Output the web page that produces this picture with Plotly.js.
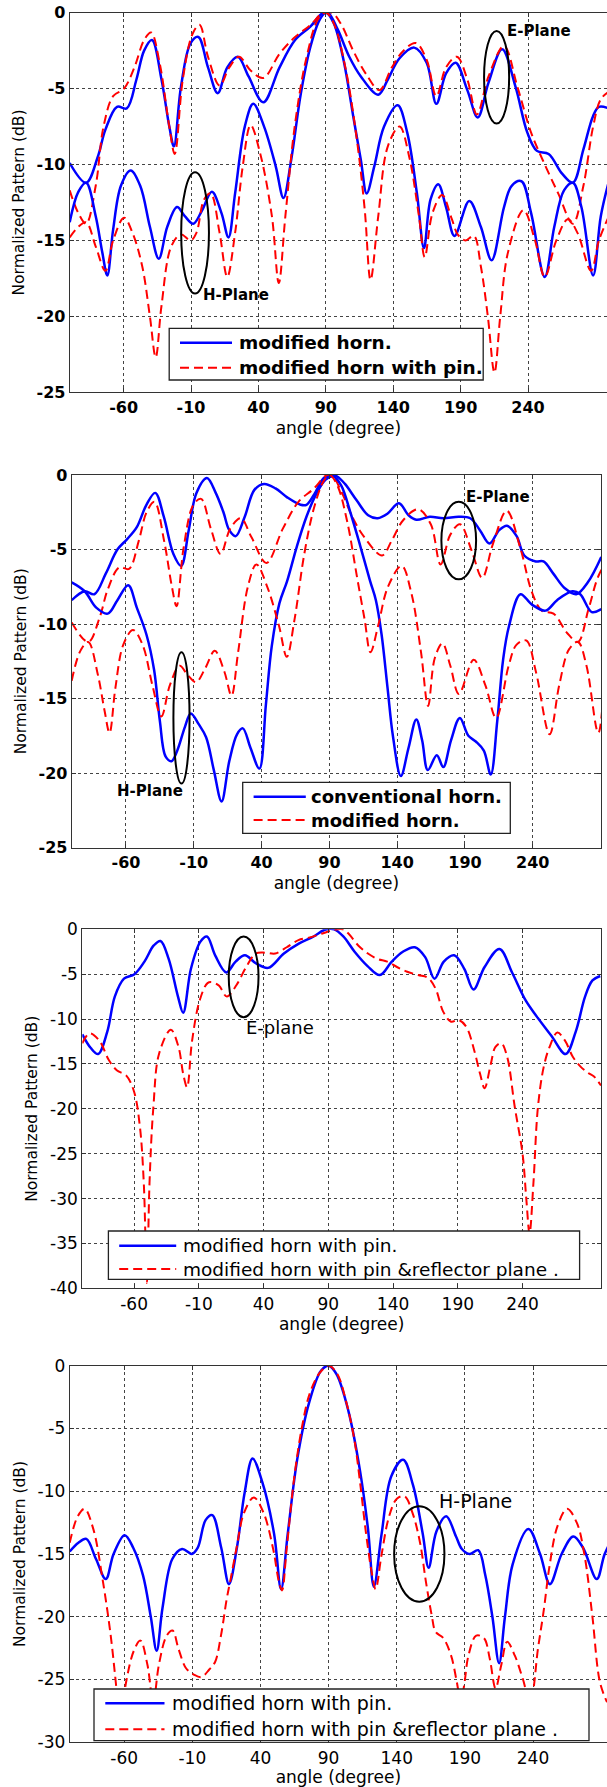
<!DOCTYPE html>
<html><head><meta charset="utf-8">
<script src="https://cdn.plot.ly/plotly-3.0.1.min.js"></script>
<style>html,body{margin:0;padding:0;background:#fff;}#chart{width:607px;height:1787px;}</style>
</head><body><div id="chart"></div>
<script>
// ---------- tick labels ----------
const angleTickVals = [-60, -10, 40, 90, 140, 190, 240];
const angleTickText = ['-60', '-10', '40', '90', '140', '190', '240'];
const dbTickVals25 = [0, -5, -10, -15, -20, -25];
const dbTickText25 = ['0', '-5', '-10', '-15', '-20', '-25'];
const dbTickVals30 = [0, -5, -10, -15, -20, -25, -30];
const dbTickText30 = ['0', '-5', '-10', '-15', '-20', '-25', '-30'];
const dbTickVals40 = [0, -5, -10, -15, -20, -25, -30, -35, -40];
const dbTickText40 = ['0', '-5', '-10', '-15', '-20', '-25', '-30', '-35', '-40'];

// ---------- series: modified horn (E / H plane) ----------
const modHornE_ang = [-100,-87.8,-79.2,-73.5,-64.9,-57.7,-50.5,-44.8,-39,-31.9,-26.1,-22.7,-17.5,-10.3,-4.6,2.6,9.8,16.9,24.7,32.7,43.6,55.7,67.2,78.7,87.3,91.6,98.8,107.4,116,128.9,136,144.7,155.6,164.8,172,179.2,186.3,195,202.7,210.7,220.8,230.8,239.5,246.6,255.3,265.3,273.3,281.1,288.3,292.6,300];
const modHornE_dB = [-9.9,-11.2,-9.5,-7.7,-6.2,-6.3,-4.4,-2.5,-1.8,-4.4,-7.5,-8.8,-4.9,-2.0,-1.6,-3.6,-5.3,-3.6,-2.9,-4.2,-5.9,-3.6,-1.8,-0.9,-0.05,0,-1.1,-2.9,-4.2,-5.4,-4.4,-3.0,-2.3,-3.3,-6.0,-4.0,-3.3,-5.1,-6.9,-4.6,-2.4,-4.9,-7.9,-9.1,-9.3,-10.6,-11.2,-9.0,-6.8,-6.2,-6.3];
const modHornH_ang = [-100,-93.6,-87.8,-80.7,-75.8,-72.1,-67.8,-62,-54.8,-47.7,-40.5,-33.9,-27.6,-20.4,-14.6,-8.3,-1.7,5.5,12.6,17.8,22.7,29.9,36.2,44.2,52.8,58.6,64.3,71.5,78.7,85.8,90.2,95.9,103.1,110.3,116,120.3,126,133.2,143.3,150.4,157.6,162.8,167.7,173.4,179.2,185.5,196.4,205,213,222.2,227.9,235.1,242.3,252.4,259.5,266.7,273.3,279.6,288.3,294,300];
const modHornH_dB = [-13.8,-11.8,-11.2,-13.4,-15.8,-17.3,-14.3,-11.4,-10.4,-11.4,-14.1,-16.2,-14.1,-12.8,-13.4,-13.9,-13.0,-11.8,-13.2,-14.8,-11.9,-7.5,-6.0,-7.5,-10.1,-12.2,-9.7,-5.3,-2.2,-0.4,0,-0.7,-3.1,-6.8,-9.7,-11.9,-10.1,-7.5,-6.1,-7.9,-11.9,-15.5,-12.3,-11.3,-12.8,-14.7,-12.4,-14.1,-16.3,-12.8,-11.4,-11.1,-13.2,-17.4,-14.1,-11.7,-11.2,-12.8,-17.3,-13.4,-11.1];

// ---------- series: modified horn with pin (E / H plane) ----------
const pinE_ang = [-100,-93.6,-87.8,-80.7,-74.9,-67.8,-59.7,-52,-44.8,-39.6,-33.3,-26.1,-22.1,-16.1,-8.9,-3.7,2.6,11.2,18.4,25.6,34.2,43.6,55.7,67.2,78.7,87.3,94.5,101.6,110.3,120.3,129.8,139,147.6,156.8,164.8,172,179.2,187.2,195,202.1,210.7,222.2,232.2,242.3,250.9,262.4,273.3,281.1,288.3,294,300];
const pinE_dB = [-11.7,-13.2,-13.9,-11.4,-7.5,-5.5,-5.0,-3.6,-1.8,-1.3,-3.3,-7.5,-9.3,-4.4,-1.4,-0.8,-2.9,-4.8,-3.6,-2.9,-3.8,-4.3,-2.7,-1.6,-0.8,-0.05,0,-0.8,-2.5,-4.1,-5.1,-3.6,-2.5,-2.0,-3.1,-5.5,-3.6,-2.9,-4.4,-6.7,-4.2,-2.2,-4.9,-7.9,-9.7,-11.9,-13.9,-11.4,-7.5,-5.7,-5.2];
const pinH_ang = [-100,-93.6,-87.8,-80.7,-73.5,-67.8,-59.7,-53.4,-46.2,-40.5,-36.2,-31.9,-24.7,-17.5,-10.3,-6,-0.3,4.6,11.2,16.9,22.7,28.4,34.2,41.4,50,55.1,60,67.2,75.8,84.4,90.2,95.9,104.5,113.1,118.9,123.2,128.9,136,144.7,151.9,159.1,163.4,169.1,176.3,183.5,187.8,193.5,199.8,205,210.2,215.1,219.4,225.1,236.6,245.2,252.4,261,269.6,276.7,286.8,292.6,300];
const pinH_dB = [-14.8,-14.1,-13.8,-15.4,-17.0,-15.0,-13.5,-14.5,-16.7,-20,-22.7,-19.3,-15.4,-14.6,-15.0,-14.5,-12.3,-11.9,-14.5,-17.4,-14.5,-10.1,-7.4,-9.3,-13.4,-17.8,-13.4,-7.3,-2.9,-0.4,0,-0.7,-3.6,-8.4,-13.0,-17.6,-13.4,-8.8,-7.5,-9.5,-13.4,-16.1,-13.2,-12.0,-13.6,-14.6,-15.0,-14.7,-16.7,-20,-23.7,-20,-15.8,-13.0,-15.0,-17.4,-15.0,-13.6,-14.5,-17.0,-15.0,-13.4];

// ---------- series: conventional horn (E / H plane) ----------
const convE_ang = [-100,-90.4,-83.3,-74.8,-66.3,-59.1,-52,-44.9,-38.4,-32.1,-25,-19.3,-13.7,-8,-0.3,6.2,11.9,16.2,21,27.6,34.7,41.8,50.3,58.9,68.8,73.1,78.8,85.9,91.6,95.8,101.5,110.1,118.6,125.7,132.8,141.3,148.4,154.1,164.1,174,185.4,193.9,201,208.1,215.2,221,228.1,233.7,242.2,247.9,255,263.6,272.1,280.6,290.5];
const convE_dB = [-8.4,-7.8,-8.0,-6.6,-5.0,-4.3,-3.5,-2.0,-1.2,-2.8,-5.3,-6.1,-3.7,-1.2,-0.2,-1.2,-2.5,-3.7,-4.1,-2.8,-1.0,-0.6,-0.9,-1.5,-2.0,-2.0,-1.3,-0.2,0,-0.1,-0.6,-1.7,-2.7,-2.9,-2.6,-1.9,-2.7,-3.0,-2.8,-2.9,-2.8,-2.9,-3.7,-4.6,-3.7,-3.4,-4.1,-5.4,-5.8,-5.8,-6.6,-7.6,-8.0,-7.2,-5.5];
const convH_ang = [-100,-90.4,-81.9,-73.4,-66.3,-58.3,-52,-44.9,-39.2,-35,-30.7,-26.4,-22.2,-16.5,-12.2,-6.5,-0.9,4.8,10.5,16.2,21.9,26.2,31.8,38.4,43.2,47.5,53.2,58.9,66,73.1,80.2,87.3,93,98.7,105.8,112.9,120,124.3,128.5,132.8,137,142.7,148.4,154.1,158.4,162.6,169.2,174,179.7,186.2,192.5,198.2,203.9,209,213.8,218.1,222.3,230.9,239.4,249.4,257.9,269.3,275,283.5,290.5];
const convH_dB = [-7.2,-7.8,-8.9,-9.3,-8.4,-7.4,-8.9,-10.7,-13.1,-16.5,-18.9,-19.2,-18.5,-16.9,-16.0,-16.7,-17.6,-19.8,-21.9,-19.2,-17.4,-17.0,-18.3,-19.7,-15.4,-11.5,-8.6,-7.1,-4.8,-2.8,-1.3,-0.3,-0.1,-0.7,-2.6,-4.8,-7.1,-8.4,-10.7,-14.2,-17.6,-20.2,-18.3,-16.4,-17.8,-19.8,-18.8,-19.6,-17.8,-16.3,-17.5,-17.9,-18.5,-20.1,-16.5,-12.4,-10.2,-8.0,-8.7,-9.1,-8.4,-7.8,-8.0,-9.2,-9.0];

// ---------- series: modified horn with pin & reflector plane (E / H plane) ----------
const reflE_ang = [-100,-94.3,-86.9,-79.4,-73.4,-66,-60,-55.5,-52.5,-50.1,-48.1,-45.1,-40.6,-31.6,-25.7,-22.1,-19.1,-15.2,-9.3,-3.3,0.6,5.7,11.6,19.1,26.6,34,41.5,49,57.9,66.9,75.8,84.8,93.7,101.2,105.7,113.1,120.6,128,135.5,143,150.4,159.4,166.9,172.8,178.8,184.8,190.7,196.7,202.7,207.2,210.7,215.5,219.1,223.6,228.1,234,240,243,245.4,248.4,251.9,256.4,260.9,266.9,272.8,278.8,284.8,290.7,295.2,300.6];
const reflE_dB = [-12.7,-11.6,-12.4,-14.6,-15.7,-16.3,-18.1,-22.0,-28.3,-39.4,-28.3,-19.8,-13.8,-11.2,-13.1,-16.1,-17.6,-12.4,-7.9,-6.0,-5.9,-6.3,-7.5,-6.2,-4.2,-2.7,-2.6,-2.7,-2.0,-1.2,-0.9,-0.5,-0.1,0,-0.5,-1.8,-2.7,-3.3,-3.6,-4.2,-4.7,-5.1,-5.4,-6.6,-9.2,-10.3,-10.1,-10.9,-13.5,-16.1,-17.7,-15.0,-13.1,-12.7,-14.2,-19.8,-25.0,-30.2,-33.9,-28.3,-19.8,-15.3,-13.1,-11.5,-12.4,-14.2,-15.3,-16.0,-16.4,-17.4];
const reflH_ang = [-100,-94.1,-89,-82.7,-75.6,-69.9,-65.7,-62.8,-58.6,-52.9,-48.1,-43,-38.7,-34.5,-28.8,-24.5,-20.3,-14.6,-8.9,-3.2,2.4,6.7,11,15.2,18.1,22.3,28,35.1,42.2,49.3,53.5,55.8,59.2,64.9,70.6,76.2,83.3,89.9,96.1,103.2,108.9,113.1,117.4,121.7,124.5,128.8,134.4,140.1,145.8,151.5,157.1,161.4,165.7,168.5,174.2,179.9,184.1,187,189.8,192.6,198.3,204,208.2,212.5,216.8,221,226.7,232.4,238,243.7,248,252.2,257.9,265,272.1,277.8,283.5,289.1,294.3];
const reflH_dB = [-14.1,-12.0,-11.4,-13.0,-17.2,-21.5,-25.7,-28.5,-25.2,-22.7,-21.9,-23.8,-26.8,-23.8,-21.5,-21.1,-22.5,-24.1,-24.6,-24.8,-24.2,-23.6,-21.5,-18.6,-17.0,-14.6,-11.7,-10.5,-11.7,-14.6,-17.2,-17.9,-14.6,-8.8,-4.8,-2.2,-0.6,0,-0.6,-3.0,-5.9,-9.3,-13.3,-16.5,-17.8,-15.1,-12.0,-10.6,-10.4,-11.7,-14.1,-17.2,-19.9,-21.2,-21.7,-23.1,-25.2,-26.8,-25.2,-23.1,-21.5,-21.7,-23.3,-25.7,-23.8,-22.0,-23.1,-24.9,-26.8,-22.5,-19.4,-15.9,-12.8,-11.4,-12.5,-15.1,-19.9,-25.2,-26.8];

// ---------- legend names ----------
const nameModHorn = 'modified horn.';
const nameModHornPin = 'modified horn with pin.';
const nameConv = 'conventional horn.';
const nameRefl = 'modified horn with pin &reflector plane .';

// ---------- styles ----------
const BLUE = '#0000ff', RED = '#ff0000';
const FONT = 'DejaVu Sans';
const RED_DASH = '9px,5px';
function solid(x, y, xa, ya, name) {
  return {type: 'scatter', mode: 'lines', x: x, y: y, xaxis: xa, yaxis: ya, name: name,
    showlegend: false, line: {color: BLUE, width: 2.5, shape: 'spline', smoothing: 1}};
}
function dashed(x, y, xa, ya, name) {
  return {type: 'scatter', mode: 'lines', x: x, y: y, xaxis: xa, yaxis: ya, name: name,
    showlegend: false, line: {color: RED, width: 2, dash: RED_DASH, shape: 'spline', smoothing: 1}};
}

const traces = [
  solid(modHornE_ang, modHornE_dB, 'x', 'y', nameModHorn),
  dashed(pinE_ang, pinE_dB, 'x', 'y', nameModHornPin),
  solid(modHornH_ang, modHornH_dB, 'x', 'y', nameModHorn),
  dashed(pinH_ang, pinH_dB, 'x', 'y', nameModHornPin),
  solid(convE_ang, convE_dB, 'x2', 'y2', nameConv),
  dashed(modHornE_ang, modHornE_dB, 'x2', 'y2', nameModHorn),
  solid(convH_ang, convH_dB, 'x2', 'y2', nameConv),
  dashed(modHornH_ang, modHornH_dB, 'x2', 'y2', nameModHorn),
  solid(pinE_ang, pinE_dB, 'x3', 'y3', nameModHornPin),
  dashed(reflE_ang, reflE_dB, 'x3', 'y3', nameRefl),
  solid(pinH_ang, pinH_dB, 'x4', 'y4', nameModHornPin),
  dashed(reflH_ang, reflH_dB, 'x4', 'y4', nameRefl)
];

const W = 607, H = 1787;
function px2x(p) { return p / W; }
function px2y(p) { return 1 - p / H; }

function xAxis(l, r, range, anchor, bold, size, standoff) {
  return {domain: [px2x(l), px2x(r)], range: range, anchor: anchor, tickmode: 'array',
    tickvals: angleTickVals, ticktext: angleTickText, ticks: 'inside', ticklen: 4, tickcolor: '#333',
    showline: true, linecolor: '#333', linewidth: 1, mirror: 'ticks', zeroline: false,
    showgrid: true, gridcolor: '#444', gridwidth: 1, griddash: '3px,3px',
    tickfont: {family: FONT, size: size, color: '#000', weight: bold ? 'bold' : 'normal'},
    title: {text: 'angle (degree)', font: {family: FONT, size: 17, color: '#000'}, standoff: standoff},
    automargin: false, fixedrange: true};
}
function yAxis(t, b, range, anchor, vals, text, bold, size, mirror, standoff) {
  return {domain: [px2y(b), px2y(t)], range: range, anchor: anchor, tickmode: 'array',
    tickvals: vals, ticktext: text, ticks: 'inside', ticklen: 4, tickcolor: '#333',
    showline: true, linecolor: '#333', linewidth: 1, mirror: mirror, zeroline: false,
    showgrid: true, gridcolor: '#444', gridwidth: 1, griddash: '3px,3px',
    tickfont: {family: FONT, size: size, color: '#000', weight: bold ? 'bold' : 'normal'},
    title: {text: 'Normalized Pattern (dB)', font: {family: FONT, size: 15.5, color: '#000'}, standoff: standoff},
    automargin: false, fixedrange: true};
}

// ---------- hand-drawn legend boxes (paper coordinates) ----------
const shapes = [];
const annotations = [];
function legendBox(l, r, t, b, rows, bold, size) {
  shapes.push({type: 'rect', xref: 'paper', yref: 'paper', x0: px2x(l), x1: px2x(r), y0: px2y(b), y1: px2y(t),
    fillcolor: '#fff', line: {color: '#222', width: 1.3}, layer: 'above'});
  rows.forEach(function (row) {
    shapes.push({type: 'line', xref: 'paper', yref: 'paper', x0: px2x(row.l0), x1: px2x(row.l1),
      y0: px2y(row.y), y1: px2y(row.y), layer: 'above',
      line: {color: row.color, width: row.dash ? 2 : 2.5, dash: row.dash ? RED_DASH : 'solid'}});
    annotations.push({xref: 'paper', yref: 'paper', x: px2x(row.tx), y: px2y(row.y), text: row.text,
      showarrow: false, xanchor: 'left', yanchor: 'middle',
      font: {family: FONT, size: size, color: '#000', weight: bold ? 'bold' : 'normal'}});
  });
}
legendBox(169.2, 483.2, 328.3, 380, [
  {l0: 180, l1: 232, tx: 237, y: 342.7, color: BLUE, dash: false, text: nameModHorn},
  {l0: 180, l1: 232, tx: 237, y: 367.7, color: RED, dash: true, text: nameModHornPin}], true, 18.5);
legendBox(242.7, 510.3, 782.3, 833.3, [
  {l0: 253.6, l1: 305.8, tx: 309, y: 796.7, color: BLUE, dash: false, text: nameConv},
  {l0: 253.6, l1: 305.8, tx: 309, y: 820, color: RED, dash: true, text: nameModHorn}], true, 18);
legendBox(108.4, 579.6, 1231, 1279.3, [
  {l0: 119.2, l1: 176.2, tx: 181, y: 1245.7, color: BLUE, dash: false, text: nameModHornPin},
  {l0: 119.2, l1: 176.2, tx: 181, y: 1269, color: RED, dash: true, text: nameRefl}], false, 18.5);
legendBox(94, 589, 1689, 1740.7, [
  {l0: 105.3, l1: 164.5, tx: 170, y: 1703.3, color: BLUE, dash: false, text: nameModHornPin},
  {l0: 105.3, l1: 164.5, tx: 170, y: 1729.3, color: RED, dash: true, text: nameRefl}], false, 19);

// ---------- plane markers ----------
function ellipse(xr, yr, x0, x1, y0, y1) {
  shapes.push({type: 'circle', xref: xr, yref: yr, x0: x0, x1: x1, y0: y0, y1: y1,
    line: {color: '#000', width: 2}, fillcolor: 'rgba(0,0,0,0)', layer: 'above'});
}
function label(xr, yr, x, y, text, bold, size) {
  annotations.push({xref: xr, yref: yr, x: x, y: y, text: text, showarrow: false, xanchor: 'left', yanchor: 'middle',
    font: {family: FONT, size: size, color: '#000', weight: bold ? 'bold' : 'normal'}});
}
ellipse('x', 'y', 207.4, 226, -7.3, -1.2);
ellipse('x', 'y', -17.3, 3.3, -18.5, -10.5);
ellipse('x2', 'y2', 172.6, 198.2, -7.0, -1.8);
ellipse('x2', 'y2', -25, -13.1, -20.7, -11.9);
ellipse('x3', 'y3', 13.1, 36.1, -9.8, -0.8);
ellipse('x4', 'y4', 138.1, 175, -18.8, -11.2);
label('x', 'y', 222.9, -1.2, 'E-Plane', true, 15);
label('x', 'y', -2.5, -18.6, 'H-Plane', true, 15);
label('x2', 'y2', 189.6, -1.5, 'E-Plane', true, 15);
label('x2', 'y2', -68, -21.2, 'H-Plane', true, 15);
label('x3', 'y3', 25.1, -10.9, 'E-plane', false, 18);
label('x4', 'y4', 169.4, -10.8, 'H-Plane', false, 19);

const layout = {
  width: W, height: H, margin: {l: 0, r: 0, t: 0, b: 0},
  paper_bgcolor: '#fff', plot_bgcolor: '#fff', showlegend: false,
  xaxis: xAxis(69.7, 607, [-100, 298.6], 'y', true, 16, 6),
  yaxis: yAxis(12.7, 392.3, [-25, 0], 'x', dbTickVals25, dbTickText25, true, 16, false, 8),
  xaxis2: xAxis(71.7, 601, [-100, 290.3], 'y2', true, 16, 6),
  yaxis2: yAxis(475, 847.6, [-25, 0], 'x2', dbTickVals25, dbTickText25, true, 16, 'ticks', 8),
  xaxis3: xAxis(82.3, 601, [-100, 300.6], 'y3', false, 17, 4),
  yaxis3: yAxis(929.3, 1288.3, [-40, 0], 'x3', dbTickVals40, dbTickText40, false, 17, 'ticks', 8),
  xaxis4: xAxis(69.7, 607, [-100, 294.3], 'y4', false, 17, 4),
  yaxis4: yAxis(1365.7, 1742.3, [-30, 0], 'x4', dbTickVals30, dbTickText30, false, 17, false, 8),
  shapes: shapes,
  annotations: annotations
};

Plotly.newPlot('chart', traces, layout, {staticPlot: true, displayModeBar: false});
</script></body></html>
